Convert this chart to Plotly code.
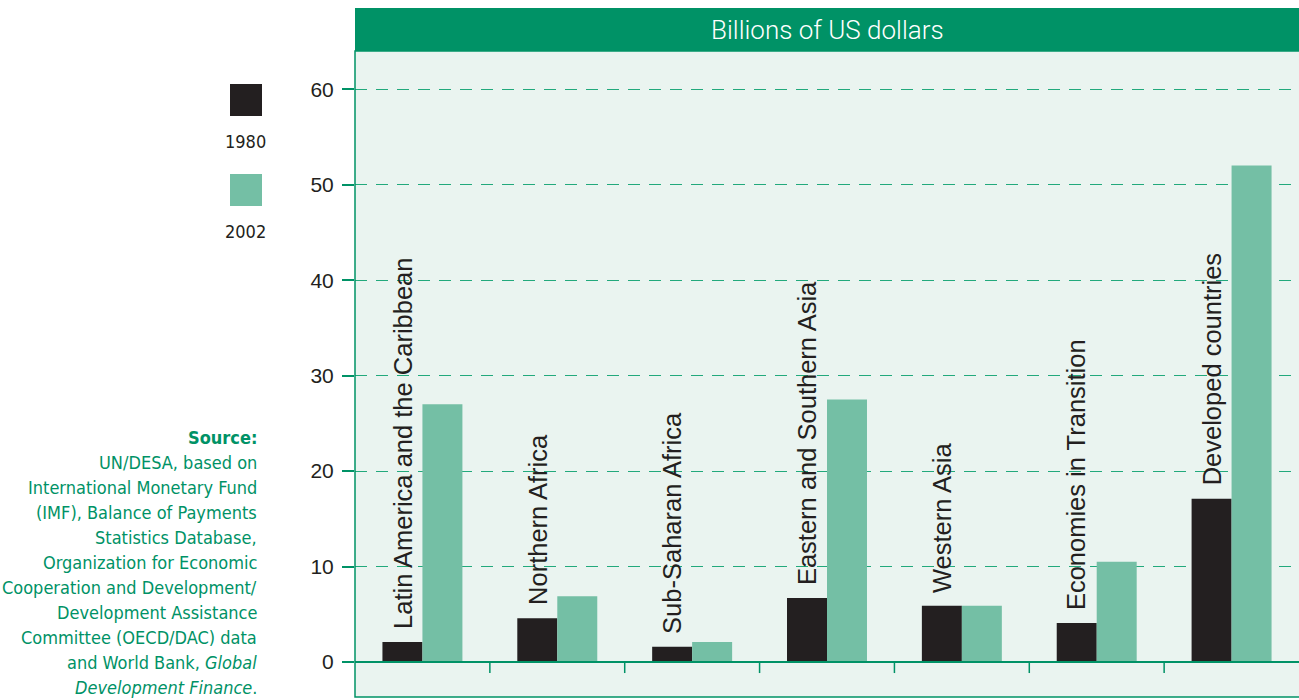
import plotly.graph_objects as go

categories = ["Latin America and the Caribbean", "Northern Africa", "Sub-Saharan Africa",
              "Eastern and Southern Asia", "Western Asia", "Economies in Transition",
              "Developed countries"]
values_1980 = [2.1, 4.6, 1.6, 6.7, 5.9, 4.1, 17.1]
values_2002 = [27.0, 6.9, 2.1, 27.5, 5.9, 10.5, 52.0]
series_names = ["1980", "2002"]
y_ticks = [0, 10, 20, 30, 40, 50, 60]

W, H = 1299, 700
ML, MR, MT, MB = 355, 0, 51, 3
PW, PH = W - ML - MR, H - MT - MB

def px_x(p):
    return (p - ML) / PW

def px_y(p):
    return (H - MB - p) / PH

DARK = "#231f20"
GREEN = "#009266"
LIGHT = "#74bfa5"
BG = "#eaf4f0"
GRID = "#22a97c"
COND = "DejaVu Sans Condensed, Roboto, Arial"
REG = "Liberation Sans, Arial, sans-serif"

fig = go.Figure()
fig.add_trace(go.Bar(x=categories, y=values_1980, name=series_names[0],
                     marker=dict(color=DARK, line=dict(width=0))))
fig.add_trace(go.Bar(x=categories, y=values_2002, name=series_names[1],
                     marker=dict(color=LIGHT, line=dict(width=0))))

annotations = []
for c, v in zip(categories, values_1980):
    annotations.append(dict(x=c, y=v, xref="x", yref="y", text=c, textangle=-90,
                            showarrow=False, xanchor="center", yanchor="bottom",
                            xshift=-20, yshift=11,
                            font=dict(family=REG, size=25.5, color=DARK)))

# header band
annotations.append(dict(x=0.5, y=px_y(30), xref="paper", yref="paper",
                        text="Billions of US dollars", showarrow=False,
                        xanchor="center", yanchor="middle",
                        font=dict(family="Roboto", weight=300, size=26, color="white")))

# legend
annotations.append(dict(x=px_x(245), y=px_y(141), xref="paper", yref="paper",
                        text=series_names[0], showarrow=False, xanchor="center", yanchor="middle",
                        font=dict(family=COND, size=18, color=DARK)))
annotations.append(dict(x=px_x(245), y=px_y(231), xref="paper", yref="paper",
                        text=series_names[1], showarrow=False, xanchor="center", yanchor="middle",
                        font=dict(family=COND, size=18, color=DARK)))

source_lines = ["UN/DESA, based on", "International Monetary Fund",
                "(IMF), Balance of Payments", "Statistics Database,",
                "Organization for Economic", "Cooperation and Development/",
                "Development Assistance", "Committee (OECD/DAC) data",
                "and World Bank, <i>Global</i>", "<i>Development Finance</i>."]
annotations.append(dict(x=px_x(259), y=px_y(437), xref="paper", yref="paper",
                        text="<b>Source:</b>", showarrow=False, xanchor="right", yanchor="middle",
                        font=dict(family=COND, size=18, color=GREEN)))
for i, line in enumerate(source_lines):
    annotations.append(dict(x=px_x(259), y=px_y(462 + 25.1 * i), xref="paper", yref="paper",
                            text=line, showarrow=False, xanchor="right", yanchor="middle",
                            font=dict(family=COND, size=18, color=GREEN)))

shapes = [
    dict(type="rect", xref="paper", yref="paper", x0=0, x1=1, y0=1, y1=px_y(8),
         fillcolor=GREEN, line=dict(width=0), layer="above"),
    dict(type="rect", xref="paper", yref="paper", x0=0, x1=1.01, y0=0, y1=1,
         line=dict(color=GREEN, width=1.5), fillcolor="rgba(0,0,0,0)", layer="above"),
    dict(type="line", xref="paper", yref="y", x0=0, x1=1, y0=0, y1=0,
         line=dict(color=GREEN, width=2), layer="above"),
    dict(type="rect", xref="paper", yref="paper", x0=px_x(230), x1=px_x(262),
         y0=px_y(116), y1=px_y(84), fillcolor=DARK, line=dict(width=0)),
    dict(type="rect", xref="paper", yref="paper", x0=px_x(230), x1=px_x(262),
         y0=px_y(206), y1=px_y(174), fillcolor=LIGHT, line=dict(width=0)),
]
# category boundary ticks
for i in range(1, len(categories)):
    shapes.append(dict(type="line", xref="x", yref="y", x0=i - 0.5, x1=i - 0.5,
                       y0=0, y1=-1.15, line=dict(color=GREEN, width=1.5)))

fig.update_layout(
    width=W, height=H,
    margin=dict(l=ML, r=MR, t=MT, b=MB),
    paper_bgcolor="white", plot_bgcolor=BG,
    barmode="group", bargap=0.407, bargroupgap=0,
    showlegend=False,
    annotations=annotations, shapes=shapes,
    xaxis=dict(range=[-0.5, len(categories) - 0.5], showticklabels=False,
               showgrid=False, zeroline=False, ticks="", showline=False),
    yaxis=dict(range=[-3.66, 64.0], tickvals=y_ticks, ticks="outside", ticklen=12,
               tickcolor=GREEN, tickwidth=1.5, showgrid=True, gridcolor=GRID,
               griddash="12px,9px", gridwidth=1.2, zeroline=False, showline=False,
               tickfont=dict(family=REG, size=21, color=DARK), ticklabelstandoff=4),
)

fig.write_html("out.html")
